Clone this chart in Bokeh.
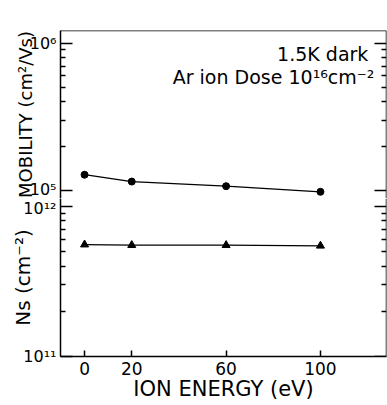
from bokeh.embed import file_html
from bokeh.layouts import column
from bokeh.models import FixedTicker, Label, LinearAxis, LogAxis, Range1d
from bokeh.plotting import figure
from bokeh.resources import INLINE

# Hall data at 1.5 K (dark), Ar ion dose 1e16 cm^-2
energy = [0, 20, 60, 100]                           # ion energy (eV)
mobility = [1.28e5, 1.15e5, 1.07e5, 0.98e5]         # cm^2/Vs
sheet_density = [5.55e11, 5.5e11, 5.5e11, 5.45e11]  # cm^-2

energy_ticks = [0, 20, 60, 100]
mobility_major = [1e5, 1e6]
mobility_minor = [2e5, 3e5, 4e5, 5e5, 6e5, 7e5, 8e5, 9e5]
ns_major = [1e11, 1e12]
ns_minor = [2e11, 3e11, 4e11, 5e11, 6e11, 7e11, 8e11, 9e11]
mobility_labels = {1e5: "10⁵", 1e6: "10⁶"}
ns_labels = {1e11: "10¹¹", 1e12: "10¹²"}

FONT = "DejaVu Sans"
WIDTH = 387
SPLIT = 198          # canvas row where the mobility panel meets the Ns panel
TOTAL_HEIGHT = 405

x_range = Range1d(-10.2, 128)


def style_axis(ax, major_in, minor_in=0):
    ax.axis_line_color = "black"
    ax.axis_line_width = 1.5
    ax.major_tick_in = major_in
    ax.major_tick_out = 0
    ax.minor_tick_in = minor_in
    ax.minor_tick_out = 0
    ax.major_tick_line_width = 1.5
    ax.minor_tick_line_width = 1.5
    ax.major_tick_line_color = "black"
    ax.minor_tick_line_color = "black"
    ax.major_label_text_font = FONT
    ax.major_label_text_color = "black"
    ax.axis_label_text_font = FONT
    ax.axis_label_text_font_style = "normal"
    ax.axis_label_text_color = "black"


def make_panel(height, y_range, major, minor, labels, title, title_size, title_standoff,
               top_border, bottom_border):
    fig = figure(
        width=WIDTH, height=height,
        x_range=x_range, y_range=y_range, y_axis_type="log",
        x_axis_location=None, y_axis_location=None,
        output_backend="svg", toolbar_location=None,
        min_border_left=60, min_border_right=1,
        min_border_top=top_border, min_border_bottom=bottom_border,
        background_fill_color="white", border_fill_color="white",
        outline_line_color=None,
    )
    fig.grid.visible = False

    left = LogAxis(ticker=FixedTicker(ticks=major, minor_ticks=minor),
                   major_label_overrides=labels, axis_label=title)
    style_axis(left, 12, 5)
    left.major_label_text_font_size = "16px"
    left.major_label_standoff = 4
    left.axis_label_text_font_size = title_size
    left.axis_label_standoff = title_standoff
    fig.add_layout(left, "left")

    # mirrored ticks on the right edge of the frame
    right = LogAxis(ticker=FixedTicker(ticks=major, minor_ticks=minor),
                    fixed_location=x_range.end,
                    major_label_overrides={k: "" for k in labels})
    style_axis(right, 12, 5)
    fig.add_layout(right, "right")
    return fig


# upper panel: Hall mobility
top = make_panel(
    SPLIT, Range1d(88270, 1.2196e6), mobility_major, mobility_minor, mobility_labels,
    "MOBILITY (cm²/Vs)", "18px", -9, 30, 0,
)
frame_top = LinearAxis(ticker=FixedTicker(ticks=energy_ticks), fixed_location=1.2196e6,
                       major_label_overrides={t: "" for t in energy_ticks})
style_axis(frame_top, 0)
top.add_layout(frame_top, "above")

top.line(energy, mobility, line_color="black", line_width=1.3)
top.scatter(energy, mobility, marker="circle", size=7, color="black")

top.add_layout(Label(x=120.3, y=8.51e5, text="1.5K dark", text_align="right",
                     text_baseline="alphabetic", text_font=FONT, text_font_size="19px",
                     text_color="black"))
top.add_layout(Label(x=122.9, y=5.94e5, text="Ar ion Dose 10¹⁶cm⁻²", text_align="right",
                     text_baseline="alphabetic", text_font=FONT, text_font_size="19px",
                     text_color="black"))

# lower panel: sheet carrier density
bottom = make_panel(
    TOTAL_HEIGHT - SPLIT, Range1d(1e11, 1.125e12), ns_major, ns_minor, ns_labels,
    "Ns (cm⁻²)", "20px", -15, 0, 49,
)
xaxis = LinearAxis(ticker=FixedTicker(ticks=energy_ticks), axis_label="ION ENERGY (eV)")
style_axis(xaxis, 6)
xaxis.major_label_text_font_size = "17px"
xaxis.major_label_standoff = 5
xaxis.axis_label_text_font_size = "21px"
xaxis.axis_label_standoff = -1
bottom.add_layout(xaxis, "below")

bottom.line(energy, sheet_density, line_color="black", line_width=1.3)
bottom.scatter(energy, sheet_density, marker="triangle", size=8, color="black")

layout = column(top, bottom, spacing=0)
open("out.html", "w").write(file_html(layout, INLINE))
